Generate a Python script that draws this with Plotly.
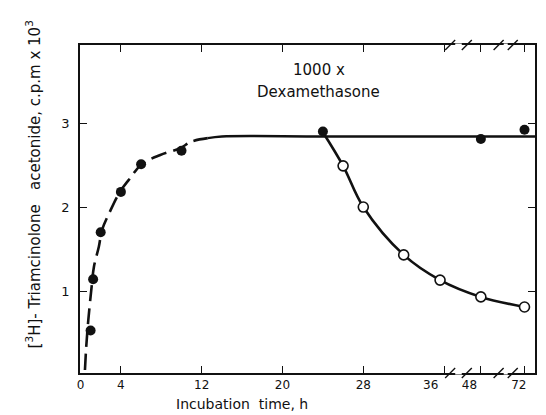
import plotly.graph_objects as go

# ---------------- data (hours, c.p.m x 10^3) ----------------
filled_h = [1.0, 1.25, 2.0, 4.0, 6.0, 10.0, 24.0, 48.0, 72.0]
filled_v = [0.53, 1.14, 1.70, 2.18, 2.51, 2.67, 2.90, 2.81, 2.92]

open_h = [26.0, 28.0, 32.0, 35.6, 48.0, 72.0]
open_v = [2.49, 2.00, 1.43, 1.13, 0.93, 0.81]

rise_h = [0.44, 0.57, 0.77, 1.1, 1.33, 1.82, 2.14, 2.97, 3.9, 4.76, 6.07, 7.9, 9.84, 11.0, 12.6]
rise_v = [0.06, 0.34, 0.65, 1.05, 1.29, 1.53, 1.73, 1.96, 2.18, 2.32, 2.51, 2.62, 2.70, 2.78, 2.82]

plateau_h = [12.6, 14.0, 24.0, 48.0, 72.0, 80.0]
plateau_v = [2.82, 2.84, 2.84, 2.84, 2.84, 2.84]

decay_h = [24.0, 26.0, 28.0, 32.0, 35.6, 48.0, 72.0]
decay_v = [2.89, 2.49, 2.00, 1.43, 1.13, 0.93, 0.81]

tick_hours = [0, 4, 12, 20, 28, 36, 48, 72]
tick_labels = ["0", "4", "12", "20", "28", "36\u00a0\u00a0\u00a0\u00a0\u00a0\u00a0\u00a0",
               "48\u00a0\u00a0\u00a0\u00a0\u00a0\u00a0", "72\u00a0\u00a0\u00a0"]
y_ticks = [1, 2, 3]

# broken time axis: linear to 36 h, then compressed segments
SEG = [(0.0, 0.0), (36.0, 36.0), (48.0, 39.64), (72.0, 43.96)]


def to_axis(h):
    pairs = list(zip(SEG[:-1], SEG[1:]))
    for (h0, a0), (h1, a1) in pairs:
        if h <= h1:
            return a0 + (h - h0) * (a1 - a0) / (h1 - h0)
    (h0, a0), (h1, a1) = pairs[-1]
    return a0 + (h - h0) * (a1 - a0) / (h1 - h0)


def ax(lst):
    return [to_axis(h) for h in lst]


BLACK = "#111111"
FONT = "DejaVu Sans"

fig = go.Figure()

fig.add_trace(go.Scatter(x=ax(rise_h), y=rise_v, mode="lines", line_shape="spline",
                         line=dict(color=BLACK, width=2.6, dash="16px,7px"), hoverinfo="skip"))
fig.add_trace(go.Scatter(x=ax(plateau_h), y=plateau_v, mode="lines", line_shape="spline",
                         line=dict(color=BLACK, width=2.4), hoverinfo="skip"))
fig.add_trace(go.Scatter(x=ax(decay_h), y=decay_v, mode="lines", line_shape="spline",
                         line=dict(color=BLACK, width=2.6), hoverinfo="skip"))
fig.add_trace(go.Scatter(x=ax(filled_h), y=filled_v, mode="markers",
                         marker=dict(size=10, color=BLACK, line=dict(width=0))))
fig.add_trace(go.Scatter(x=ax(open_h), y=open_v, mode="markers",
                         marker=dict(size=10, color="white", line=dict(width=1.6, color=BLACK))))

# axis break marks (in axis units)
shapes = []
for gap in [(36.6, 38.25), (41.4, 42.8)]:
    for yp in (0, 1):
        shapes.append(dict(type="line", xref="x", yref="paper", x0=gap[0] + 0.5, x1=gap[1] - 0.5,
                           y0=yp, y1=yp, line=dict(color="white", width=3), layer="above"))
        for c in gap:
            shapes.append(dict(type="line", xref="x", yref="paper",
                               xsizemode="pixel", xanchor=c, x0=-5, x1=5,
                               ysizemode="pixel", yanchor=yp, y0=-5, y1=5,
                               line=dict(color=BLACK, width=1.4), layer="above"))

fig.update_layout(
    width=546, height=415,
    margin=dict(l=80, r=8, t=45, b=42),
    paper_bgcolor="white", plot_bgcolor="white",
    showlegend=False,
    font=dict(family=FONT, color=BLACK),
    shapes=shapes,
    xaxis=dict(range=[-0.05, 45.0], tickvals=ax(tick_hours), ticktext=tick_labels,
               tickangle=0,
               ticks="inside", ticklen=7, tickwidth=1.3, tickcolor=BLACK,
               showline=True, linecolor=BLACK, linewidth=1.5, mirror="ticks",
               showgrid=False, zeroline=False, tickfont=dict(size=12),
               ticklabelstandoff=0),
    yaxis=dict(range=[0.024, 3.929], tickvals=y_ticks, ticktext=[str(v) for v in y_ticks],
               ticks="inside", ticklen=7, tickwidth=1.3, tickcolor=BLACK,
               showline=True, linecolor=BLACK, linewidth=1.5, mirror="ticks",
               showgrid=False, zeroline=False, tickfont=dict(size=13),
               ticklabelstandoff=6),
    annotations=[
        dict(text="1000 x", x=23.6, y=3.63, xref="x", yref="y", showarrow=False,
             font=dict(size=15)),
        dict(text="Dexamethasone", x=23.6, y=3.37, xref="x", yref="y", showarrow=False,
             font=dict(size=15)),
        dict(text="[<sup>3</sup>H]- Triamcinolone\u00a0\u00a0 acetonide, c.p.m x 10<sup>3</sup>",
             x=-0.1026, y=0.576, xref="paper", yref="paper", textangle=-90,
             xanchor="center", yanchor="middle", showarrow=False, font=dict(size=15)),
        dict(text="Incubation\u00a0 time, h", x=0.355, y=-0.094, xref="paper", yref="paper",
             xanchor="center", yanchor="middle", showarrow=False, font=dict(size=14)),
    ],
)

fig.write_html("out.html")
